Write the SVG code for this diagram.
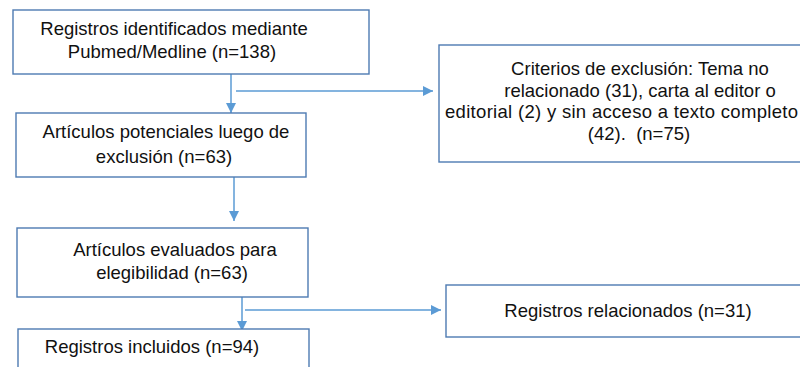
<svg xmlns="http://www.w3.org/2000/svg" width="800" height="367" viewBox="0 0 800 367">
<defs>
<style>
.box{fill:#fff;stroke:#4e7bb2;stroke-width:1.4}
.t{font-family:"Liberation Sans",Arial,sans-serif;font-size:18.5px;fill:#111;text-anchor:middle}
.c{stroke:#5b9bd5;stroke-width:1.5;fill:none}
</style>
<marker id="ah" viewBox="0 0 10 10" refX="10" refY="5" markerWidth="10" markerHeight="10" markerUnits="userSpaceOnUse" orient="auto">
<path d="M0,0 L10,5 L0,10 Z" fill="#5b9bd5"/>
</marker>
</defs>
<rect width="800" height="367" fill="#fff"/>
<g id="connectors">
<line class="c" x1="231" y1="74" x2="231" y2="113" marker-end="url(#ah)"/>
<line class="c" x1="236" y1="91" x2="433" y2="91" marker-end="url(#ah)"/>
<line class="c" x1="234" y1="177" x2="234" y2="221" marker-end="url(#ah)"/>
<line class="c" x1="242" y1="297" x2="242" y2="331" marker-end="url(#ah)"/>
<line class="c" x1="245" y1="310" x2="441" y2="310" marker-end="url(#ah)"/>
</g>
<g id="n1">
<rect class="box" x="13" y="10" width="356" height="64"/>
<text class="t" x="174" y="35">Registros identificados mediante</text>
<text class="t" x="172" y="58">Pubmed/Medline (n=138)</text>
</g>
<g id="n2">
<rect class="box" x="16" y="113" width="290" height="64"/>
<text class="t" x="166" y="138">Artículos potenciales luego de</text>
<text class="t" x="164" y="163">exclusión (n=63)</text>
</g>
<g id="n3">
<rect class="box" x="439" y="45" width="400" height="117"/>
<text class="t" x="640" y="75">Criterios de exclusión: Tema no</text>
<text class="t" x="640" y="97">relacionado (31), carta al editor o</text>
<text class="t" x="445" y="118" style="text-anchor:start" textLength="353" lengthAdjust="spacing">editorial (2) y sin acceso a texto completo</text>
<text class="t" x="639" y="140" xml:space="preserve">(42).  (n=75)</text>
</g>
<g id="n4">
<rect class="box" x="17" y="228" width="291" height="69"/>
<text class="t" x="175" y="256">Artículos evaluados para</text>
<text class="t" x="172" y="279">elegibilidad (n=63)</text>
</g>
<g id="n5">
<rect class="box" x="18" y="329" width="291" height="50"/>
<text class="t" x="152" y="353">Registros incluidos (n=94)</text>
</g>
<g id="n6">
<rect class="box" x="446" y="285" width="370" height="52"/>
<text class="t" x="628" y="317">Registros relacionados (n=31)</text>
</g>
</svg>
